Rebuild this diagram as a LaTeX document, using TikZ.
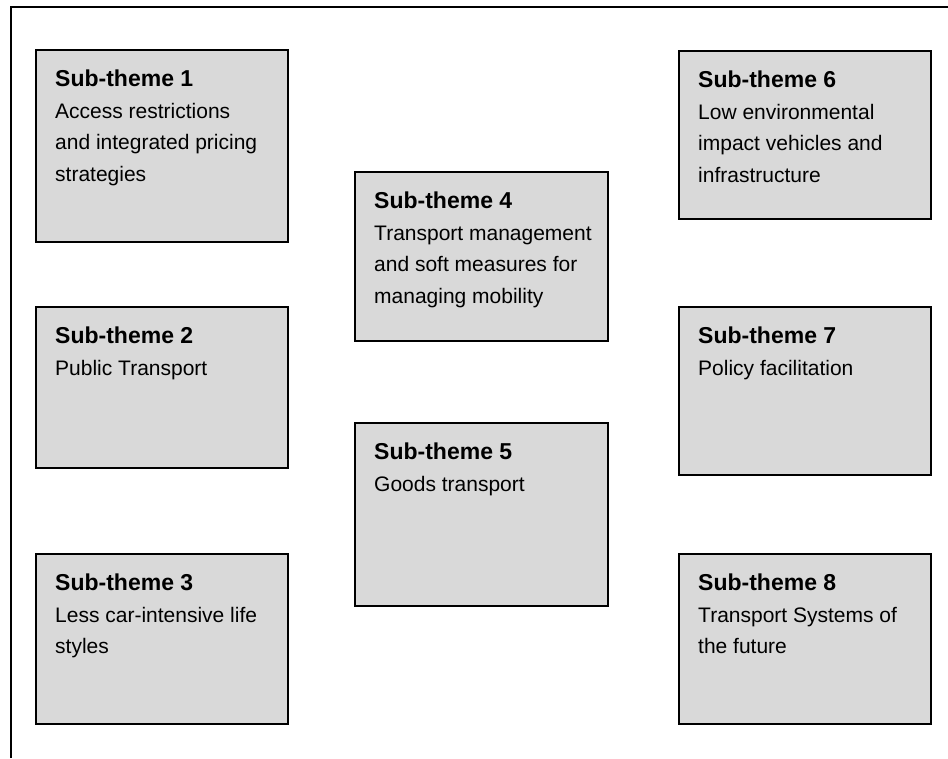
\documentclass[tikz,border=0pt]{standalone}
\usepackage{fontspec}
\setmainfont{Liberation Sans}
\usepackage{tikz}

\definecolor{boxgray}{HTML}{D9D9D9}
\newcommand{\subhead}[1]{{\fontsize{23}{31.5}\bfseries\selectfont #1}}

\begin{document}
\begin{tikzpicture}[x=1pt,y=-1pt,
	theme/.style={draw=black,line width=1.6pt,fill=boxgray,anchor=north west,inner sep=0pt},
	desc/.style={anchor=north west,inner sep=0pt,align=left,font=\fontsize{21}{31.5}\selectfont}]
	\useasboundingbox (0,0) rectangle (948,758);
	% frame
	\draw[line width=1.8pt] (11,758) -- (11,7) -- (948,7);
	% boxes
	\node[theme,minimum width=252pt,minimum height=192pt] (st1) at (35,49) {};
	\node[theme,minimum width=252pt,minimum height=161pt] (st2) at (35,306) {};
	\node[theme,minimum width=252pt,minimum height=170pt] (st3) at (35,553) {};
	\node[theme,minimum width=253pt,minimum height=169pt] (st4) at (354,171) {};
	\node[theme,minimum width=253pt,minimum height=183pt] (st5) at (354,422) {};
	\node[theme,minimum width=252pt,minimum height=168pt] (st6) at (678,50) {};
	\node[theme,minimum width=252pt,minimum height=168pt] (st7) at (678,306) {};
	\node[theme,minimum width=252pt,minimum height=170pt] (st8) at (678,553) {};
	% texts
	\node[desc] (t1) at ([xshift=20pt,yshift=-21pt]st1.north west)
		{\subhead{Sub-theme 1}\\Access restrictions\\and integrated pricing\\strategies};
	\node[desc] (t2) at ([xshift=20pt,yshift=-21pt]st2.north west)
		{\subhead{Sub-theme 2}\\Public Transport};
	\node[desc] (t3) at ([xshift=20pt,yshift=-21pt]st3.north west)
		{\subhead{Sub-theme 3}\\Less car-intensive life\\styles};
	\node[desc] (t4) at ([xshift=20pt,yshift=-21pt]st4.north west)
		{\subhead{Sub-theme 4}\\Transport management\\and soft measures for\\managing mobility};
	\node[desc] (t5) at ([xshift=20pt,yshift=-21pt]st5.north west)
		{\subhead{Sub-theme 5}\\Goods transport};
	\node[desc] (t6) at ([xshift=20pt,yshift=-21pt]st6.north west)
		{\subhead{Sub-theme 6}\\Low environmental\\impact vehicles and\\infrastructure};
	\node[desc] (t7) at ([xshift=20pt,yshift=-21pt]st7.north west)
		{\subhead{Sub-theme 7}\\Policy facilitation};
	\node[desc] (t8) at ([xshift=20pt,yshift=-21pt]st8.north west)
		{\subhead{Sub-theme 8}\\Transport Systems of\\the future};
\end{tikzpicture}
\end{document}
